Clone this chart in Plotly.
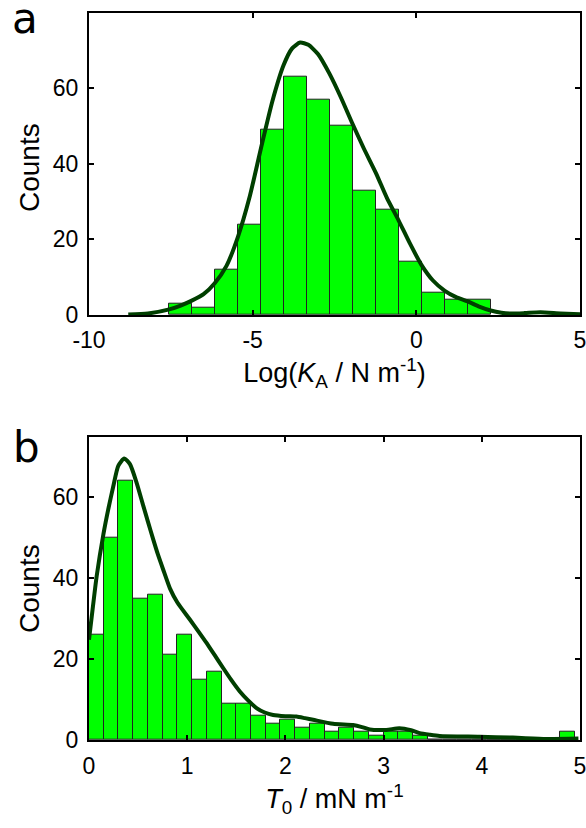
import plotly.graph_objects as go

# ---------------- data ----------------
# panel a: Log(K_A / N m^-1) histogram
ka_bin_centers = [-7.20, -6.50, -5.80, -5.09, -4.39, -3.69, -2.99, -2.29,
                  -1.58, -0.88, -0.18, 0.52, 1.23, 1.93]
ka_counts = [3, 2, 12, 24, 49, 63, 57, 50, 33, 28, 14, 6, 4, 4]
ka_bin_width = 0.7025

ka_curve_x = [-8.80, -8.20, -7.55, -7.20, -6.86, -6.50, -6.16, -5.80, -5.45,
              -5.10, -4.75, -4.40, -4.06, -3.80, -3.55, -3.30, -3.00, -2.65,
              -2.30, -1.95, -1.60, -1.23, -0.90, -0.54, -0.20, 0.16, 0.50,
              0.87, 1.20, 1.57, 1.90, 2.27, 2.60, 2.87, 3.30, 3.79, 4.40, 5.00]
ka_curve_y = [0.1, 0.4, 1.5, 2.5, 3.8, 5.5, 8.4, 13.0, 20.7, 31.0, 44.0, 56.5,
              66.0, 70.5, 72.1, 71.5, 69.0, 63.8, 57.5, 50.6, 44.0, 37.5, 31.0,
              25.0, 19.0, 13.2, 9.2, 6.4, 4.8, 3.6, 2.3, 1.2, 0.6, 0.4, 0.5,
              0.7, 0.4, 0.2]

# panel b: T0 / mN m^-1 histogram
t0_bin_centers = [0.075, 0.225, 0.375, 0.525, 0.675, 0.825, 0.975, 1.125,
                  1.275, 1.425, 1.575, 1.725, 1.875, 2.025, 2.175, 2.325,
                  2.475, 2.625, 2.775, 2.925, 3.075, 3.225, 3.375, 3.525,
                  3.675, 3.825, 3.975, 4.125, 4.275, 4.425, 4.575, 4.725,
                  4.875]
t0_counts = [26, 50, 64, 35, 36, 21, 26, 15, 17, 9, 9, 6, 4, 5, 3, 4, 2, 3,
             2, 1, 2, 2, 1, 0, 0, 0, 0, 0, 0, 0, 0, 0, 2]
t0_bin_width = 0.15

t0_curve_x = [0.0, 0.04, 0.078, 0.146, 0.20, 0.248, 0.298, 0.359, 0.417,
              0.485, 0.553, 0.60, 0.654, 0.70, 0.756, 0.824, 0.90, 1.027,
              1.11, 1.197, 1.28, 1.366, 1.45, 1.536, 1.62, 1.706, 1.79, 1.875,
              2.00, 2.113, 2.20, 2.282, 2.486, 2.689, 2.78, 2.859, 3.028,
              3.16, 3.28, 3.367, 3.47, 3.57, 3.977, 4.316, 4.655, 4.984]
t0_curve_y = [24.8, 33.0, 40.5, 50.8, 57.5, 62.8, 67.8, 69.6, 68.2, 63.6,
              57.9, 54.0, 49.6, 46.0, 42.1, 37.5, 34.0, 29.8, 27.0, 24.0,
              21.0, 17.8, 14.8, 12.0, 9.8, 7.9, 6.8, 6.2, 5.9, 5.8, 5.4, 5.0,
              4.0, 3.7, 3.2, 2.6, 2.5, 2.9, 2.4, 1.7, 1.3, 1.0, 0.8, 0.6,
              0.25, 0.35]

ka_xticks = [-10, -5, 0, 5]
ka_xtick_text = ["-10", "-5", "0", "5"]
t0_xticks = [0, 1, 2, 3, 4, 5]
t0_xtick_text = ["0", "1", "2", "3", "4", "5"]
count_ticks = [0, 20, 40, 60]
count_tick_text = ["0", "20", "40", "60"]

# ---------------- styling ----------------
W, H = 586, 828
BAR_COLOR = "#00ff00"
CURVE_COLOR = "#003f00"
FAMILY = "Liberation Sans, Arial, sans-serif"
TICK_FONT = dict(family=FAMILY, size=23, color="black")
TITLE_FONT = dict(family=FAMILY, size=27, color="black")
COUNTS_FONT = dict(family=FAMILY, size=28, color="black")
PANEL_FONT = dict(family="DejaVu Sans", size=42, color="black")


def px_x(p):
    return p / W


def px_y(p):
    return 1 - p / H


fig = go.Figure()

fig.add_trace(go.Bar(x=ka_bin_centers, y=ka_counts, width=ka_bin_width,
                     marker=dict(color=BAR_COLOR, line=dict(color="#222222", width=1)),
                     xaxis="x", yaxis="y", showlegend=False))
fig.add_trace(go.Scatter(x=ka_curve_x, y=ka_curve_y, mode="lines",
                         line=dict(color=CURVE_COLOR, width=4, shape="spline", smoothing=0.6),
                         xaxis="x", yaxis="y", showlegend=False))
fig.add_trace(go.Bar(x=t0_bin_centers, y=t0_counts, width=t0_bin_width,
                     marker=dict(color=BAR_COLOR, line=dict(color="#222222", width=1)),
                     xaxis="x2", yaxis="y2", showlegend=False))
fig.add_trace(go.Scatter(x=t0_curve_x, y=t0_curve_y, mode="lines",
                         line=dict(color=CURVE_COLOR, width=4, shape="spline", smoothing=0.6),
                         xaxis="x2", yaxis="y2", showlegend=False))

axis_common = dict(showline=True, linecolor="black", linewidth=2, mirror="ticks",
                   ticks="inside", ticklen=5, tickwidth=1.5, tickcolor="black",
                   showgrid=False, zeroline=False, tickfont=TICK_FONT,
                   automargin=False, ticklabeloverflow="allow")

x_dom = [px_x(89), px_x(580)]
fig.update_layout(
    width=W, height=H,
    margin=dict(l=0, r=0, t=0, b=0),
    paper_bgcolor="white", plot_bgcolor="white",
    bargap=0,
    xaxis=dict(domain=x_dom, range=[-10, 5.0001], tickvals=ka_xticks,
               ticktext=ka_xtick_text, anchor="y", ticklabelstandoff=3,
               title=dict(text="Log(<i>K</i><sub>A</sub> / N m<sup>-1</sup>)",
                          font=TITLE_FONT, standoff=12),
               **axis_common),
    yaxis=dict(domain=[px_y(315), px_y(12.7)], range=[0, 80], tickvals=count_ticks,
               ticktext=count_tick_text, anchor="x", ticklabelstandoff=4,
               **axis_common),
    xaxis2=dict(domain=x_dom, range=[0, 5.0001], tickvals=t0_xticks,
                ticktext=t0_xtick_text, anchor="y2", ticklabelstandoff=4,
                title=dict(text="<i>T</i><sub>0</sub> / mN m<sup>-1</sup>",
                           font=TITLE_FONT, standoff=12),
                **axis_common),
    yaxis2=dict(domain=[px_y(740), px_y(436.7)], range=[0, 75], tickvals=count_ticks,
                ticktext=count_tick_text, anchor="x2", ticklabelstandoff=4,
                **axis_common),
)

annots = [
    dict(text="a", x=px_x(25), y=px_y(19), font=PANEL_FONT),
    dict(text="b", x=px_x(26), y=px_y(448), font=PANEL_FONT),
    dict(text="Counts", x=px_x(29), y=px_y(168), textangle=-90, font=COUNTS_FONT),
    dict(text="Counts", x=px_x(29), y=px_y(589), textangle=-90, font=COUNTS_FONT),
]
for a in annots:
    fig.add_annotation(xref="paper", yref="paper", xanchor="center", yanchor="middle",
                       showarrow=False, **a)

fig.write_html("out.html")
